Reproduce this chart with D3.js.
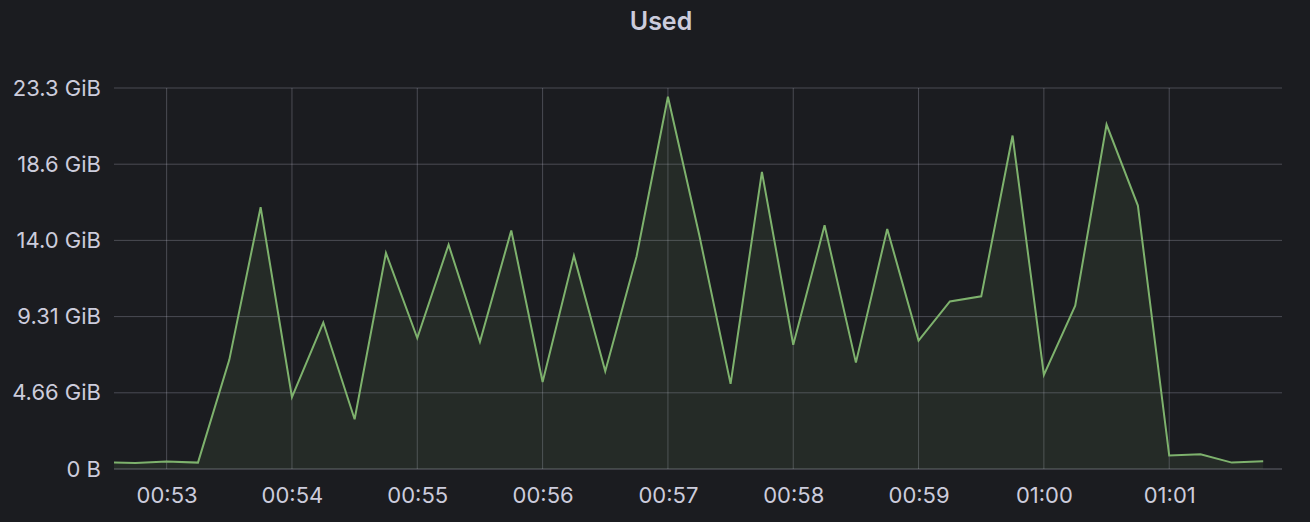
<!DOCTYPE html>
<html>
<head>
<meta charset="utf-8">
<script src="https://cdn.jsdelivr.net/npm/d3@7"></script>
<style>
  body { margin: 0; background: #1b1c20; }
  svg text { font-family: Inter, "Noto Sans", sans-serif; fill: #ccccdc; }
</style>
</head>
<body>
<script>
var w = 1310;
var h = 522;

// samples every 15 s, starting 00:52:30 (first one falls just left of the range)
var startTime = "00:52:30";
var stepSeconds = 15;
var usedGiB = [0.42, 0.37, 0.46, 0.39, 6.67, 16.0, 4.39, 8.95, 3.04, 13.2,
               8.0, 13.71, 7.77, 14.58, 5.32, 13.04, 5.98, 13.0, 22.75, 14.3,
               5.2, 18.16, 7.59, 14.89, 6.5, 14.67, 7.85, 10.24, 10.55, 20.38,
               5.75, 9.98, 21.05, 16.1, 0.82, 0.9, 0.39, 0.47];
var yTicks = [0, 5e9, 10e9, 15e9, 20e9, 25e9];   // bytes
var timeRange = ["00:52:34.8", "01:01:54"];

var GiB = Math.pow(2, 30);

function t(s) {
    var p = s.split(':');
    return new Date(Date.UTC(2021, 0, 1, +p[0], +p[1], 0, Math.round(parseFloat(p[2]) * 1000)));
}

var t0 = t(startTime);
var data = usedGiB.map(function(v, i) {
    return { time: new Date(t0.getTime() + i * stepSeconds * 1000), value: v * GiB };
});

var margin = { top: 88, right: 28, bottom: 53, left: 114 };
var iw = w - margin.left - margin.right;
var ih = h - margin.top - margin.bottom;

var svg = d3.select('body')
            .append('svg')
            .attr('width', w)
            .attr('height', h);

svg.append('rect').attr('width', w).attr('height', h).attr('fill', '#1b1c20');

svg.append('text')
   .attr('x', 661)
   .attr('y', 30)
   .attr('text-anchor', 'middle')
   .style('font-size', '25px')
   .style('font-weight', 600)
   .text('Used');

var x = d3.scaleUtc()
          .domain(timeRange.map(t))
          .range([0, iw]);

var y = d3.scaleLinear()
          .domain([0, 25e9])
          .range([ih, 0]);

var g = svg.append('g').attr('transform', 'translate(' + margin.left + ',' + margin.top + ')');

g.append('clipPath').attr('id', 'clip')
 .append('rect').attr('width', iw).attr('height', ih + 2).attr('y', -2);

var gridColor = d3.color('#ccccdc').copy({opacity: 0.27});

// grid
g.append('g')
 .selectAll('line')
 .data(yTicks)
 .enter()
 .append('line')
 .attr('x1', 0).attr('x2', iw)
 .attr('y1', function(d) { return y(d); })
 .attr('y2', function(d) { return y(d); })
 .attr('stroke', gridColor)
 .attr('stroke-width', function(d) { return d === 0 ? 1.5 : 1; });

var xTicks = x.ticks(d3.utcMinute.every(1));
g.append('g')
 .selectAll('line')
 .data(xTicks)
 .enter()
 .append('line')
 .attr('x1', function(d) { return x(d); })
 .attr('x2', function(d) { return x(d); })
 .attr('y1', 0).attr('y2', ih)
 .attr('stroke', gridColor)
 .attr('stroke-width', 1);

// axes (labels only)
var fmtBytes = function(d) {
    if (d === 0) return '0 B';
    return d3.format('.3r')(d / GiB) + ' GiB';
};

var yAxis = d3.axisLeft(y).tickValues(yTicks).tickFormat(fmtBytes).tickSize(0).tickPadding(13);
var ya = g.append('g').call(yAxis);
ya.select('.domain').remove();
ya.selectAll('text').style('font-size', '22px').attr('fill', '#ccccdc');

var xAxis = d3.axisBottom(x).tickValues(xTicks).tickFormat(d3.utcFormat('%H:%M')).tickSize(0).tickPadding(18);
var xa = g.append('g').attr('transform', 'translate(0,' + ih + ')').call(xAxis);
xa.select('.domain').remove();
xa.selectAll('text').style('font-size', '22px').attr('fill', '#ccccdc');

// series
var area = d3.area()
             .x(function(d) { return x(d.time); })
             .y0(y(0))
             .y1(function(d) { return y(d.value); });

var line = d3.line()
             .x(function(d) { return x(d.time); })
             .y(function(d) { return y(d.value); });

var series = g.append('g').attr('clip-path', 'url(#clip)');

series.append('path')
      .datum(data)
      .attr('d', area)
      .attr('fill', '#7eb26d')
      .attr('fill-opacity', 0.1);

series.append('path')
      .datum(data)
      .attr('d', line)
      .attr('fill', 'none')
      .attr('stroke', '#7eb26d')
      .attr('stroke-width', 2)
      .attr('stroke-linejoin', 'miter');
</script>
</body>
</html>
